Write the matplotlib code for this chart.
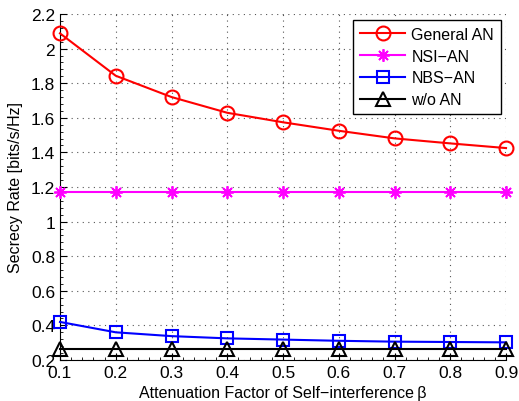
import matplotlib
matplotlib.use("Agg")
import matplotlib.pyplot as plt
from matplotlib.ticker import MultipleLocator, AutoMinorLocator, FuncFormatter

beta = [0.1, 0.2, 0.3, 0.4, 0.5, 0.6, 0.7, 0.8, 0.9]
general_an = [2.088, 1.843, 1.720, 1.629, 1.574, 1.525, 1.481, 1.452, 1.425]
nsi_an = [1.169] * 9
nbs_an = [0.420, 0.360, 0.338, 0.325, 0.318, 0.311, 0.306, 0.304, 0.302]
wo_an = [0.262] * 9

plt.rcParams['font.family'] = ['Liberation Sans', 'DejaVu Sans']

fig = plt.figure(figsize=(5.19, 4.02), dpi=100)
ax = fig.add_axes([0.1156, 0.102, 0.975 - 0.1156, 0.9627 - 0.102])

lw = 1.5
ax.plot(beta, general_an, color='red', marker='o', ms=10, mfc='none', mew=1.5, lw=lw,
        label='General AN', clip_on=False, zorder=5)
ax.plot(beta, nsi_an, color='magenta', marker=(8, 2, 0), ms=9, mfc='none', mew=1.3, lw=lw,
        label='NSI\u2212AN', clip_on=False, zorder=5)
ax.plot(beta, nbs_an, color='blue', marker='s', ms=8, mfc='none', mew=1.5, lw=lw,
        label='NBS\u2212AN', clip_on=False, zorder=5)
ax.plot(beta, wo_an, color='black', marker='^', ms=10, mfc='none', mew=1.5, lw=lw,
        label='w/o AN', clip_on=False, zorder=5)

ax.set_xlim(0.1, 0.9)
ax.set_ylim(0.2, 2.2)
ax.xaxis.set_major_locator(MultipleLocator(0.1))
ax.yaxis.set_major_locator(MultipleLocator(0.2))
ax.xaxis.set_minor_locator(AutoMinorLocator(5))
ax.yaxis.set_minor_locator(AutoMinorLocator(5))
ax.xaxis.set_major_formatter(FuncFormatter(lambda v, p: f"{v:.1f}"))
ax.yaxis.set_major_formatter(FuncFormatter(lambda v, p: ("%g" % round(v, 1))))

ax.tick_params(axis='both', which='major', direction='in', length=5, labelsize=12.5, width=0.8)
ax.tick_params(axis='both', which='minor', direction='in', length=2.5, width=0.6)
ax.grid(True, which='major', linestyle=(0, (1, 4)), color='#555555', lw=0.8)

for s in ['top', 'right']:
    ax.spines[s].set_visible(False)
for s in ['left', 'bottom']:
    ax.spines[s].set_linewidth(0.8)

ax.set_xlabel('Attenuation Factor of Self\u2212interference\u2009\u03b2', fontsize=11.5, labelpad=4)
ax.set_ylabel('Secrecy Rate [bits/s/Hz]', fontsize=11.5, labelpad=6)

leg = ax.legend(loc='upper right', bbox_to_anchor=(0.989, 0.983), borderaxespad=0,
                fontsize=11.5, frameon=True,
                fancybox=False, edgecolor='black', framealpha=1, handlelength=2.8,
                borderpad=0.45, labelspacing=0.42, handletextpad=0.4)
leg.get_frame().set_linewidth(1.0)
leg.set_zorder(10)

fig.savefig('out.png', dpi=100)
